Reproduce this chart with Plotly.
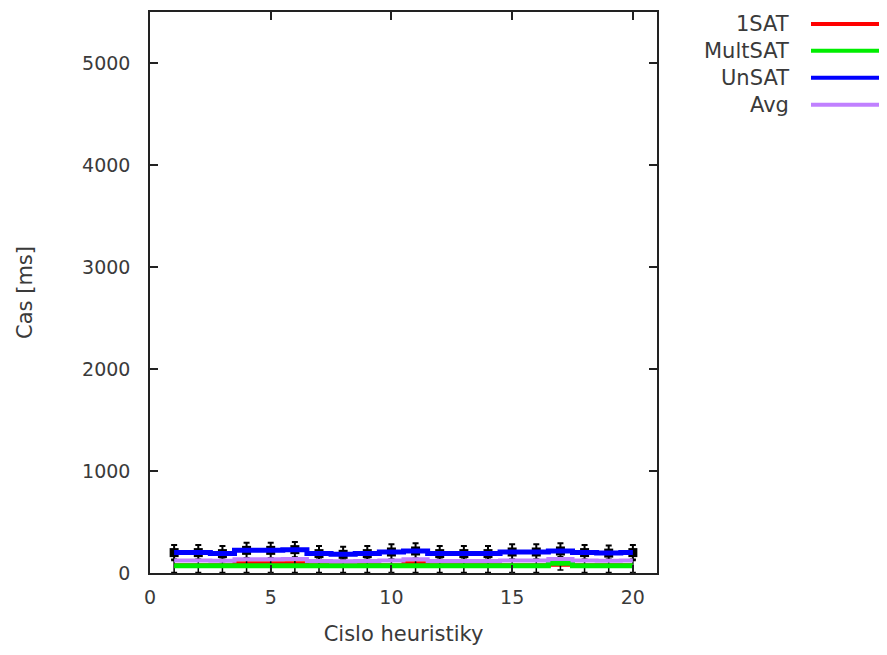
import plotly.graph_objects as go

# ---- data ----
heuristics = list(range(1, 21))
sat1 = [75, 75, 75, 95, 95, 95, 75, 75, 75, 75, 95, 75, 75, 75, 75, 75, 80, 75, 75, 75]
multsat = [70, 70, 70, 70, 70, 70, 70, 70, 70, 70, 70, 70, 70, 70, 70, 70, 95, 70, 70, 70]
unsat = [200, 200, 190, 222, 222, 229, 190, 183, 190, 206, 216, 190, 190, 190, 206, 206, 216, 200, 195, 200]
avg = [122, 122, 120, 135, 135, 137, 118, 116, 118, 122, 135, 118, 118, 118, 122, 122, 138, 122, 120, 122]
multsat_err = [65] * 20
unsat_err = [75] * 20

series_names = ["1SAT", "MultSAT", "UnSAT", "Avg"]
series_colors = ["#ff0000", "#00ee00", "#0000ff", "#c080ff"]

x_ticks = [0, 5, 10, 15, 20]
y_ticks = [0, 1000, 2000, 3000, 4000, 5000]

TICKFONT = dict(family="DejaVu Sans", size=19, color="#3a3a3a")
TITLEFONT = dict(family="DejaVu Sans", size=21, color="#3a3a3a")
LEGFONT = dict(family="DejaVu Sans", size=21, color="#3a3a3a")

fig = go.Figure()

fig.add_trace(go.Scatter(x=heuristics, y=sat1, mode="lines", line=dict(color=series_colors[0], width=4, shape="hvh"),
                         showlegend=False))
fig.add_trace(go.Scatter(x=heuristics, y=multsat, mode="lines", line=dict(color=series_colors[1], width=5, shape="hvh"),
                         error_y=dict(type="data", array=multsat_err, color="black", thickness=1.5, width=3),
                         showlegend=False))
fig.add_trace(go.Scatter(x=heuristics, y=unsat, mode="markers",
                         marker=dict(symbol="square", size=9, color="black"),
                         error_y=dict(type="data", array=unsat_err, color="black", thickness=2, width=3),
                         showlegend=False))
fig.add_trace(go.Scatter(x=heuristics, y=unsat, mode="lines", line=dict(color=series_colors[2], width=5, shape="hvh"),
                         showlegend=False))
fig.add_trace(go.Scatter(x=heuristics, y=avg, mode="lines", line=dict(color=series_colors[3], width=4, shape="hvh"),
                         showlegend=False))

# page has an 8px body offset; target plot box in screen pixels
OFF = 8
plot_l, plot_r, plot_t, plot_b = 150 - OFF, 657 - OFF, 10 - OFF, 573 - OFF
W, H = plot_r - plot_l, plot_b - plot_t
def px(x):
    return (x - OFF - plot_l) / W
def py(y):
    return (plot_b - (y - OFF)) / H

leg_y = [22, 49, 76, 103]
for name, col, yy in zip(series_names, series_colors, leg_y):
    fig.add_annotation(x=px(791), y=py(yy), xref="paper", yref="paper", text=name, showarrow=False,
                       xanchor="right", yanchor="middle", font=LEGFONT)
    fig.add_shape(type="line", xref="paper", yref="paper", x0=px(811), x1=px(883), y0=py(yy), y1=py(yy),
                  line=dict(color=col, width=4))

axis_common = dict(showline=True, linecolor="#222222", linewidth=1.5, mirror="allticks", ticks="inside",
                   ticklen=8, tickwidth=1.5, tickcolor="#222222", showgrid=False, zeroline=False,
                   tickfont=TICKFONT)

fig.update_xaxes(range=[0, 21], tickvals=x_ticks, ticktext=[str(v) for v in x_ticks],
                 title=dict(text="Cislo heuristiky", font=TITLEFONT, standoff=20), ticklabelstandoff=6, **axis_common)
fig.update_yaxes(range=[0, 5500], tickvals=y_ticks, ticktext=[str(v) for v in y_ticks],
                 title=dict(text="Cas [ms]", font=TITLEFONT, standoff=44), ticklabelstandoff=14, **axis_common)

fig.update_layout(width=887, height=655, margin=dict(l=plot_l, r=887 - plot_r, t=plot_t, b=655 - plot_b),
                  plot_bgcolor="white", paper_bgcolor="white", showlegend=False)

fig.write_html("out.html")
